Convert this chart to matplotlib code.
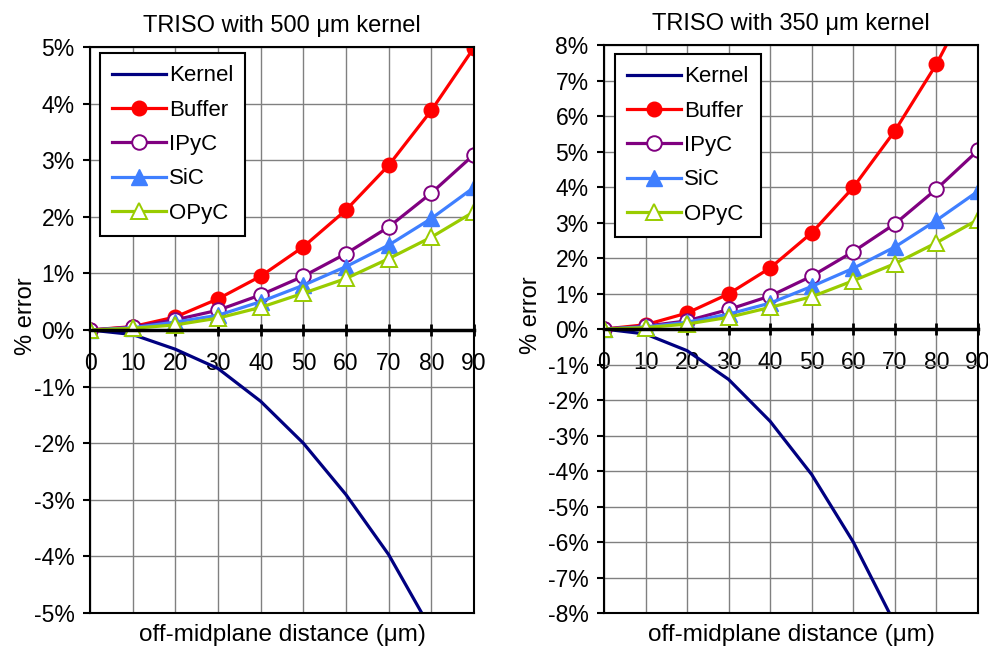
import matplotlib
matplotlib.use("Agg")
import matplotlib.pyplot as plt

plt.rcParams['font.family'] = ['Liberation Sans', 'DejaVu Sans']

x = [0, 10, 20, 30, 40, 50, 60, 70, 80, 90]
series_names = ['Kernel', 'Buffer', 'IPyC', 'SiC', 'OPyC']

# TRISO with 500 um kernel (% error)
kernel_500 = [0, -0.08, -0.34, -0.68, -1.26, -2.0, -2.91, -3.97, -5.3, -6.8]
buffer_500 = [0, 0.06, 0.23, 0.55, 0.95, 1.47, 2.12, 2.91, 3.88, 4.99]
ipyc_500 = [0, 0.05, 0.18, 0.35, 0.62, 0.95, 1.35, 1.82, 2.42, 3.1]
sic_500 = [0, 0.04, 0.14, 0.26, 0.5, 0.79, 1.12, 1.5, 1.97, 2.52]
opyc_500 = [0, 0.03, 0.09, 0.21, 0.4, 0.65, 0.91, 1.26, 1.64, 2.09]

# TRISO with 350 um kernel (% error)
kernel_350 = [0, -0.14, -0.61, -1.42, -2.6, -4.1, -6.0, -8.3, -10.9, -13.8]
buffer_350 = [0, 0.12, 0.45, 0.99, 1.72, 2.71, 3.99, 5.58, 7.46, 9.7]
ipyc_350 = [0, 0.08, 0.23, 0.55, 0.93, 1.49, 2.18, 2.96, 3.94, 5.03]
sic_350 = [0, 0.06, 0.19, 0.42, 0.73, 1.2, 1.71, 2.31, 3.06, 3.88]
opyc_350 = [0, 0.04, 0.14, 0.33, 0.61, 0.91, 1.36, 1.84, 2.43, 3.08]

titles = ['TRISO with 500 \u03bcm kernel', 'TRISO with 350 \u03bcm kernel']
ylims = [5, 8]

styles = {
    'Kernel': dict(color='#000080', marker=None),
    'Buffer': dict(color='#ff0000', marker='o', mfc='#ff0000', mec='#ff0000', ms=10.5),
    'IPyC': dict(color='#800080', marker='o', mfc='white', mec='#800080', ms=10.5, mew=1.4),
    'SiC': dict(color='#3f7fff', marker='^', mfc='#3f7fff', mec='#3f7fff', ms=11),
    'OPyC': dict(color='#99cc00', marker='^', mfc='white', mec='#99cc00', ms=11, mew=1.4),
}

fig = plt.figure(figsize=(9.88, 6.48), dpi=100)
ax1 = fig.add_axes([0.0911, 0.054, 0.3887, 0.8735])
ax2 = fig.add_axes([0.6113, 0.054, 0.3785, 0.8765])

panels = [
    (ax1, [kernel_500, buffer_500, ipyc_500, sic_500, opyc_500]),
    (ax2, [kernel_350, buffer_350, ipyc_350, sic_350, opyc_350]),
]

for i, (ax, data) in enumerate(panels):
    lim = ylims[i]
    for name, y in zip(series_names, data):
        st = styles[name]
        ax.plot(x, y, lw=2.3, label=name, **st)
    ax.set_xlim(0, 90)
    ax.set_ylim(-lim, lim)
    ax.set_xticks(x)
    ax.set_yticks(range(-lim, lim + 1))
    ax.set_yticklabels(['%d%%' % v for v in range(-lim, lim + 1)])
    ax.grid(True, color='#808080', lw=1)
    ax.set_axisbelow(True)
    for s in ['left', 'right', 'top']:
        ax.spines[s].set_linewidth(1.5)
    ax.spines['bottom'].set_position(('data', 0))
    ax.spines['bottom'].set_linewidth(2.5)
    ax.plot([0, 1], [0, 0], transform=ax.transAxes, color='black', lw=1.5, clip_on=False)
    ax.tick_params(axis='x', direction='inout', length=9, width=2, pad=11, labelsize=16.5)
    ax.tick_params(axis='y', direction='out', length=5, width=1.5, pad=6, labelsize=16.5)
    ax.set_title(titles[i], fontsize=17, pad=11)
    ax.set_xlabel('off-midplane distance (\u03bcm)', fontsize=17.5, labelpad=0)
    ax.xaxis.set_label_coords(0.5, -0.02)
    ax.set_ylabel('% error', fontsize=17)
    ax.yaxis.set_label_coords(-0.137 if i == 0 else -0.165, 0.525)
    leg = ax.legend(loc='upper left', bbox_to_anchor=(0.026, 0.989) if i == 0 else (0.03, 0.984),
                    fontsize=16, frameon=True, fancybox=False, edgecolor='black',
                    framealpha=1, handlelength=2.4, labelspacing=0.6,
                    handletextpad=0.15, borderpad=0.55, borderaxespad=0)
    leg.get_frame().set_linewidth(1.5)

fig.savefig('out.png', dpi=100)
